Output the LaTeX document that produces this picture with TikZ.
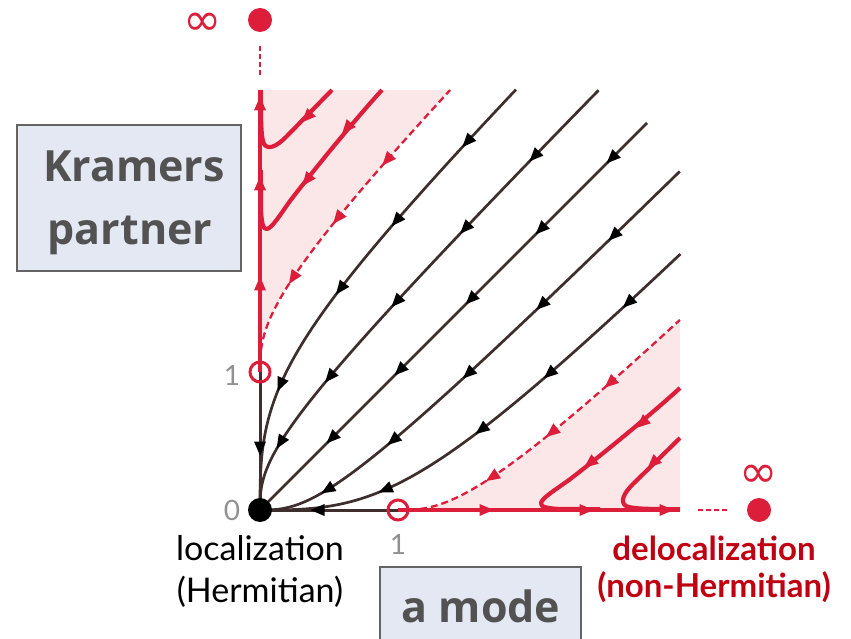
\documentclass[tikz,border=0pt]{standalone}
\usepackage{fontspec}
\setmainfont{Lato}
\newfontfamily\boxfont{Open Sans}
\newfontfamily\symfont{DejaVu Sans}
\usetikzlibrary{arrows.meta}
\definecolor{myred}{RGB}{220,30,58}
\definecolor{darkred}{RGB}{192,0,18}
\definecolor{curvecol}{RGB}{62,46,46}
\definecolor{shadecol}{RGB}{251,230,232}
\definecolor{boxfill}{RGB}{228,232,243}
\definecolor{boxedge}{RGB}{100,100,100}
\definecolor{boxtext}{RGB}{82,82,82}
\definecolor{numgray}{RGB}{145,145,145}
\tikzset{
  blk/.style={draw=curvecol, line width=2.7pt},
  blkax/.style={draw=curvecol, line width=3pt},
  redl/.style={draw=myred, line width=4.2pt, line join=round},
  redax/.style={draw=myred, line width=4pt},
  reddash/.style={draw=myred, line width=2.3pt, dash pattern=on 7pt off 4pt},
  shortdash/.style={draw=myred, line width=2pt, dash pattern=on 5pt off 3pt},
  opencirc/.style={draw=myred, line width=3pt},
  boxstyle/.style={draw=boxedge, line width=1.8pt, fill=boxfill},
  boxtxt/.style={text=boxtext, font=\boxfont\bfseries\fontsize{43}{50}\selectfont, inner sep=0pt, anchor=base},
  numtxt/.style={text=numgray, font=\fontsize{28}{32}\selectfont, inner sep=0pt},
  labtxt/.style={font=\fontsize{34}{40}\selectfont, inner sep=0pt, anchor=base},
  redtxt/.style={text=darkred, font=\bfseries\fontsize{33}{40}\selectfont, inner sep=0pt, anchor=base},
  inftxt/.style={text=myred, font=\symfont\fontsize{46}{46}\selectfont, inner sep=0pt},
}
% filled arrow head centred at (#1,#2), pointing at angle #3
\newcommand\tri[4]{\fill[#4,shift={(#1,#2)},rotate=#3] (7.5,0) -- (-6.5,6) -- (-6.5,-6) -- cycle;}
% pair of mirrored flow curves: C, L, t_start, arrow parameters
\newcommand\flowpair[4]{%
  \draw[blk] plot[domain=0:#3,samples=100] ({\x*\x*\x},{\x*\x*\x+#1*tanh(\x/#2)});
  \draw[blk] plot[domain=0:#3,samples=100] ({\x*\x*\x+#1*tanh(\x/#2)},{\x*\x*\x});
  \foreach \tp in {#4} {
    \pgfmathsetmacro\myU{\tp*\tp*\tp}
    \pgfmathsetmacro\myV{\myU+#1*tanh(\tp/#2)}
    \pgfmathsetmacro\myDU{3*\tp*\tp}
    \pgfmathsetmacro\myDV{\myDU+#1/#2/(cosh(\tp/#2))^2}
    \pgfmathsetmacro\myAngA{atan2(-\myDV,-\myDU)}
    \pgfmathsetmacro\myAngB{atan2(-\myDU,-\myDV)}
    \tri{\myU}{\myV}{\myAngA}{black}
    \tri{\myV}{\myU}{\myAngB}{black}
  }}
\begin{document}
\begin{tikzpicture}[x=1pt,y=1pt]
\useasboundingbox (0,0) rectangle (851,638);

\begin{scope}[shift={(260,128)}]
  % shaded regions
  \fill[shadecol] (0,138) -- plot[domain=0:5.75,samples=80] ({\x*\x*\x},{138+\x*\x*\x+120*tanh(\x/5.7)}) -- (0,420) -- cycle;
  \fill[shadecol] (138,0) -- plot[domain=0:5.75,samples=80] ({138+\x*\x*\x+120*tanh(\x/5.7)},{\x*\x*\x}) -- (420,0) -- cycle;

  % black flow curves
  \flowpair{180}{4.1}{6.35}{5.92,5.15,4.32,2.74}
  \flowpair{90}{4.7}{6.97}{6.50,5.90,5.15,4.12,2.74}
  \draw[blk] (0,0) -- (387,387);
  \foreach \d in {352,281,211,140,72} {\tri{\d}{\d}{225}{black}}

  % axes
  \draw[blkax] (0,0) -- (0,138);
  \draw[blkax] (0,0) -- (138,0);
  \tri{0}{62}{270}{black}
  \tri{58}{0}{180}{black}
  \draw[redax] (0,138) -- (0,420);
  \draw[redax] (138,0) -- (420,0);
  \foreach \d in {226,326,406} {\tri{0}{\d}{90}{myred}\tri{\d}{0}{0}{myred}}

  % dashed separatrices
  \draw[reddash] plot[domain=0:5.75,samples=80] ({\x*\x*\x},{138+\x*\x*\x+120*tanh(\x/5.7)});
  \draw[reddash] plot[domain=0:5.75,samples=80] ({138+\x*\x*\x+120*tanh(\x/5.7)},{\x*\x*\x});
  \foreach \tp in {5.03,4.27,3.21} {
    \pgfmathsetmacro\myU{\tp*\tp*\tp}
    \pgfmathsetmacro\myV{138+\myU+120*tanh(\tp/5.7)}
    \pgfmathsetmacro\myDU{3*\tp*\tp}
    \pgfmathsetmacro\myDV{\myDU+120/5.7/(cosh(\tp/5.7))^2}
    \pgfmathsetmacro\myAngA{atan2(-\myDV,-\myDU)}
    \pgfmathsetmacro\myAngB{atan2(-\myDU,-\myDV)}
    \tri{\myU}{\myV}{\myAngA}{myred}
    \tri{\myV}{\myU}{\myAngB}{myred}
  }

  % red flow curves (upper left)
  \draw[redl] (72,420) -- (26,373) .. controls (16,363) and (8,360) .. (4,366) .. controls (2,370) and (1.2,380) .. (1,395) -- (0.8,420);
  \draw[redl] (122,420) .. controls (100,396) and (60,348) .. (30,309) .. controls (20,295) and (12,282) .. (7,281) .. controls (3,280) and (1.5,288) .. (1,300) -- (0.8,340);
  \tri{47}{393}{226}{myred}
  \tri{87}{382}{229}{myred}
  \tri{47}{330}{232}{myred}
  % red flow curves (lower right)
  \draw[redl] (420,72) -- (373,26) .. controls (363,16) and (360,8) .. (366,4) .. controls (370,2) and (380,1.2) .. (395,1) -- (420,0.8);
  \draw[redl] (420,122) .. controls (396,100) and (348,60) .. (309,30) .. controls (295,20) and (282,12) .. (281,7) .. controls (280,3) and (288,1.5) .. (300,1) -- (340,0.8);
  \tri{393}{47}{224}{myred}
  \tri{382}{87}{221}{myred}
  \tri{330}{47}{218}{myred}

  % points
  \fill[black] (0,0) circle (12);
  \draw[opencirc] (0,138) circle (10);
  \draw[opencirc] (138,0) circle (10);
  \draw[shortdash] (0,435) -- (0,465);
  \draw[shortdash] (438,0) -- (468,0);
  \fill[myred] (0,490) circle (12);
  \fill[myred] (499,0) circle (12);
  \node[inftxt] (infy) at (-57,486) {∞};
  \node[inftxt] (infx) at (499,34) {∞};

  % tick numbers
  \node[numtxt] (n0) at (-28,0) {0};
  \node[numtxt] (n1y) at (-28,135) {1};
  \node[numtxt] (n1x) at (138,-34) {1};
\end{scope}

% labels
\node[labtxt] (loc) at (260,78) {localization};
\node[labtxt] (herm) at (260,36) {(Hermitian)};
\node[redtxt] (deloc) at (714,78) {delocalization};
\node[redtxt] (nherm) at (714,41) {(non-Hermitian)};

% boxes
\draw[boxstyle] (17,367) rectangle (241,513);
\node[boxtxt] (kr) at (134,456) {Kramers};
\node[boxtxt] (pa) at (130,393) {partner};
\draw[boxstyle] (380,-10) rectangle (581,71);
\node[boxtxt] (am) at (481,16) {a mode};
\end{tikzpicture}
\end{document}
